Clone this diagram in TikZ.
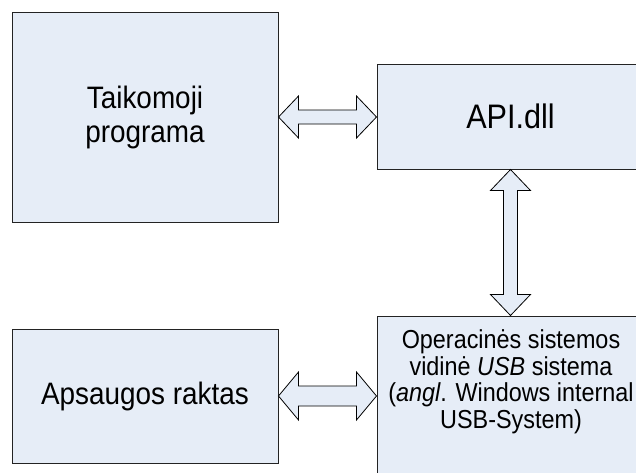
\documentclass[tikz,border=0pt]{standalone}
\usepackage{fontspec}
\setmainfont{Liberation Sans}
\newfontfamily\narrowfont[FakeStretch=0.9]{Liberation Sans}
\usetikzlibrary{calc}
\definecolor{boxfill}{RGB}{230,237,247}
\definecolor{boxline}{RGB}{35,35,35}
% horizontal double block arrow: #1 left tip, #2 right tip, #3 head half-height, #4 shaft half-height, #5 head length
\newcommand{\hblockarrow}[5]{%
  \draw[barrow] (#1) -- ++(#5,-#3) -- ++(0,#3-#4) -- ($(#2)+(-#5,-#4)$) -- ++(0,#4-#3) -- (#2)
    -- ++(-#5,#3) -- ++(0,#4-#3) -- ($(#1)+(#5,#4)$) -- ++(0,#3-#4) -- cycle;}
% vertical double block arrow: #1 top tip, #2 bottom tip
\newcommand{\vblockarrow}[5]{%
  \draw[barrow] (#1) -- ++(-#3,#5) -- ++(#3-#4,0) -- ($(#2)+(-#4,-#5)$) -- ++(#4-#3,0) -- (#2)
    -- ++(#3,-#5) -- ++(#4-#3,0) -- ($(#1)+(#4,#5)$) -- ++(#3-#4,0) -- cycle;}
\begin{document}
\begin{tikzpicture}[x=1pt,y=-1pt,
  box/.style={draw=boxline, fill=boxfill, line width=1pt, inner sep=0pt},
  barrow/.style={draw=black, fill=boxfill, line width=0.8pt, line join=miter},
  bigtext/.style={font=\narrowfont\fontsize{31}{34}\selectfont, align=center},
  apitext/.style={font=\narrowfont\fontsize{34}{36}\selectfont, align=center},
  smalltext/.style={font=\narrowfont\fontsize{26}{26.5}\selectfont, align=center}]
\useasboundingbox (0,0) rectangle (636,472);
\clip (0,0) rectangle (636,472);
\node[box, minimum width=266pt, minimum height=210pt, bigtext] (prog) at (145,117) {Taikomoji\\programa};
\node[box, minimum width=267pt, minimum height=105pt, apitext] (api) at (510.5,116.5) {API.dll};
\node[box, minimum width=266pt, minimum height=134pt, bigtext] (key) at (145,396) {Apsaugos raktas};
\node[box, minimum width=267pt, minimum height=168pt] (usb) at (510.5,400) {};
\node[smalltext, inner sep=0pt] (usbtext) at (511,382) {Operacinės sistemos\\vidinė \textit{USB} sistema\\(\textit{angl}. Windows internal\\USB-System)};
% connectors
\coordinate (a1) at (prog.east);
\coordinate (a2) at (api.west |- a1);
\hblockarrow{a1}{a2}{21}{7}{20}
\coordinate (b1) at (api.south);
\coordinate (b2) at (usb.north);
\vblockarrow{b1}{b2}{20}{7}{21}
\coordinate (c1) at (key.east);
\coordinate (c2) at (usb.west |- c1);
\hblockarrow{c1}{c2}{24}{10}{20}
\end{tikzpicture}
\end{document}
